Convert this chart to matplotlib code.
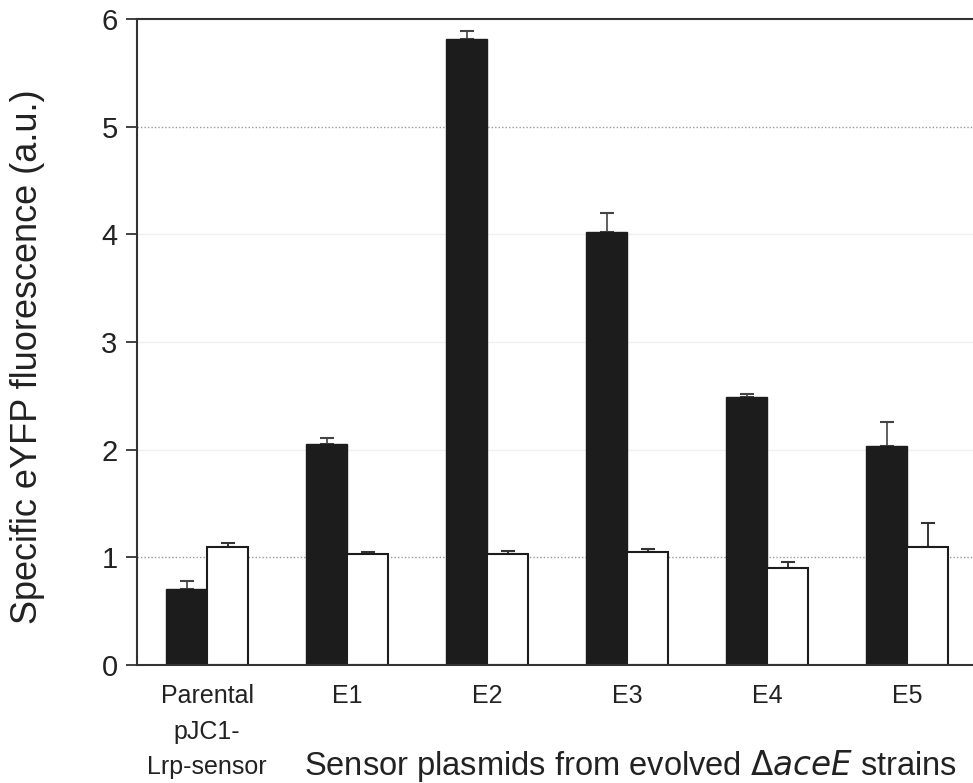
import numpy as np
import matplotlib.pyplot as plt

plt.rcParams['font.family'] = ['Liberation Sans', 'DejaVu Sans']

categories = ["Parental\npJC1-\nLrp-sensor", "E1", "E2", "E3", "E4", "E5"]
black_vals = [0.71, 2.05, 5.81, 4.02, 2.49, 2.03]
black_err = [0.07, 0.06, 0.08, 0.18, 0.03, 0.23]
white_vals = [1.10, 1.03, 1.03, 1.05, 0.90, 1.10]
white_err = [0.03, 0.02, 0.03, 0.03, 0.06, 0.22]

fig = plt.figure(figsize=(9.73, 7.83), dpi=100)
ax = fig.add_axes([137/973, 1-665/783, (973-137)/973, (665-19)/783])

x = np.arange(len(categories))
w = 0.293
txt = '#222222'

# grilles pointillées
for yv in [1, 5]:
    ax.axhline(yv, color='#999999', ls=(0, (1, 1.5)), lw=1.0, zorder=0)
for yv in [2, 3, 4]:
    ax.axhline(yv, color='#f0f0f0', lw=1.0, zorder=0)

ax.bar(x - w/2, black_vals, w, color='#1c1c1c', edgecolor='#1c1c1c', lw=1, zorder=2)
ax.bar(x + w/2, white_vals, w, color='white', edgecolor='#1c1c1c', lw=1.5, zorder=2)
ax.errorbar(x - w/2, black_vals, yerr=[np.zeros(len(x)), black_err], fmt='none',
            ecolor='#444444', elinewidth=1.2, capsize=5, capthick=1.5, zorder=1)
ax.errorbar(x + w/2, white_vals, yerr=[np.zeros(len(x)), white_err], fmt='none',
            ecolor='#333333', elinewidth=1.4, capsize=5, capthick=1.5, zorder=1)

ax.set_xlim(-0.5, 5.47)
ax.set_ylim(0, 6)
ax.set_yticks(range(7))
ax.tick_params(axis='y', labelsize=21, colors=txt, length=8, width=1.2, direction='out', pad=6)
ax.set_xticks(x)
ax.set_xticklabels(categories, fontsize=18, color=txt, linespacing=1.6)
ax.tick_params(axis='x', length=0, pad=14)
for s in ['left', 'top', 'bottom']:
    ax.spines[s].set_color('#333333')
    ax.spines[s].set_linewidth(1.5)
ax.spines['right'].set_visible(False)

ax.set_ylabel("Specific eYFP fluorescence (a.u.)", fontsize=26, color=txt)
ax.yaxis.set_label_coords(-(137-45)/836, 0.478)
fig.text(630/973, 1-766/783, r"Sensor plasmids from evolved $\Delta$$\it{aceE}$ strains",
         fontsize=23.5, color=txt, ha='center', va='center')

fig.savefig("out.png", dpi=100)
